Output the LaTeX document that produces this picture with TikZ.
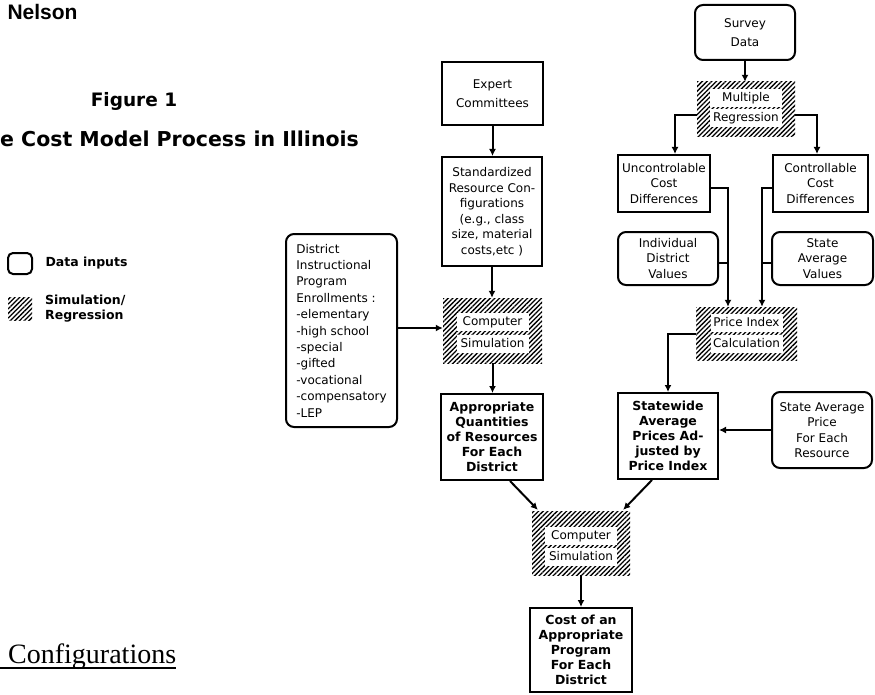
\documentclass[tikz,border=0pt]{standalone}
\usepackage{fontspec}
\setmainfont{DejaVu Sans}
\newfontfamily\headfont{Liberation Sans}
\newfontfamily\pagefont{Liberation Serif}
\usetikzlibrary{arrows.meta, positioning, calc, patterns.meta}

\begin{document}
\begin{tikzpicture}[
    x=1pt, y=-1pt,
    font=\fontsize{12}{15.5}\selectfont,
    >={Latex[length=7pt,width=7pt]},
    % Box styles for inputs, results and computations
    data_box/.style={draw, line width=2pt, rounded corners=8pt, align=center, inner sep=1pt},
    result_box/.style={draw, line width=2pt, align=center, inner sep=1pt},
    bold_box/.style={result_box, font=\fontsize{12.5}{15}\selectfont\bfseries},
    hatch_box/.style={pattern={Lines[angle=45,distance=3.3pt,line width=1.3pt]}, inner sep=0pt},
    hatch_text/.style={fill=white, inner xsep=2pt, inner ysep=3pt, text height=9pt, text depth=2.5pt, minimum width=72pt},
    flow/.style={->, line width=2pt},
    joint/.style={line width=2pt}
]
\useasboundingbox (0,0) rectangle (875,695);

% --- 1. Page headings ---
\node[anchor=west, font=\headfont\fontsize{21}{24}\selectfont\bfseries] (author) at (4,12) {Nelson};
\node[font=\fontsize{18.5}{22}\selectfont\bfseries] (figno) at (134,101) {Figure 1};
\node[anchor=west, inner sep=0pt, font=\fontsize{20.5}{24}\selectfont\bfseries] (title) at (0,139) {e Cost Model Process in Illinois};

% --- 2. Legend ---
\node[data_box, minimum width=24pt, minimum height=21pt, rounded corners=5pt] (leg_data) at (20,263.5) {};
\node[right=9pt of leg_data, font=\fontsize{12.5}{14}\selectfont\bfseries] (leg_data_txt) {Data inputs};
\node[hatch_box, minimum width=24pt, minimum height=23pt] (leg_hatch) at (20,308.5) {};
\node[right=9pt of leg_hatch, align=left, font=\fontsize{12.5}{15}\selectfont\bfseries] (leg_hatch_txt) {Simulation/\\Regression};

% --- 3. Resource quantities (left column) ---
\node[result_box, minimum width=101pt, minimum height=63pt] (expert) at (492.5,93.5) {Expert\\[4pt]Committees};
\node[result_box, minimum width=100pt, minimum height=109pt] (stdres) at (492,211.5)
    {Standardized\\Resource Con-\\figurations\\(e.g., class\\size, material\\costs,etc )};
\node[data_box, minimum width=111pt, minimum height=193pt, align=left, font=\fontsize{12}{16.4}\selectfont] (district) at (341.5,330.5)
    {District\\Instructional\\Program\\Enrollments :\\-elementary\\-high school\\-special\\-gifted\\-vocational\\-compensatory\\-LEP};

\node[hatch_box, minimum width=99pt, minimum height=65pt] (csim_a) at (492.5,330.5) {};
\node[hatch_text] (csim_a1) at (492.5,322) {Computer};
\node[hatch_text] (csim_a2) at (492.5,344) {Simulation};

\node[bold_box, minimum width=102pt, minimum height=86pt] (appq) at (492,437)
    {Appropriate\\Quantities\\of Resources\\For Each\\District};

% --- 4. Price index (right column) ---
\node[data_box, minimum width=100pt, minimum height=55pt] (survey) at (745,32.5) {Survey\\[3pt]Data};

\node[hatch_box, minimum width=98pt, minimum height=55pt] (mreg) at (746,109.5) {};
\node[hatch_text] (mreg_1) at (746,98) {Multiple};
\node[hatch_text] (mreg_2) at (746,118) {Regression};

\node[result_box, minimum width=92pt, minimum height=57pt] (uncon) at (664,183.5) {Uncontrolable\\Cost\\Differences};
\node[result_box, minimum width=95pt, minimum height=57pt] (contr) at (820.5,183.5) {Controllable\\Cost\\Differences};

\node[data_box, minimum width=100pt, minimum height=53pt] (indiv) at (668,258.5) {Individual\\District\\Values};
\node[data_box, minimum width=101pt, minimum height=53pt] (stavg) at (822.5,258.5) {State\\Average\\Values};

\node[hatch_box, minimum width=101pt, minimum height=53pt] (pidx) at (746.5,333.5) {};
\node[hatch_text] (pidx_1) at (746.5,323) {Price Index};
\node[hatch_text] (pidx_2) at (746.5,344) {Calculation};

\node[bold_box, minimum width=100pt, minimum height=86pt] (statew) at (668,436)
    {Statewide\\Average\\Prices Ad-\\justed by\\Price Index};
\node[data_box, minimum width=100pt, minimum height=76pt] (sprice) at (822,430)
    {State Average\\Price\\For Each\\Resource};

% --- 5. Final cost ---
\node[hatch_box, minimum width=98pt, minimum height=64pt] (csim_b) at (581,543) {};
\node[hatch_text] (csim_b1) at (581,536) {Computer};
\node[hatch_text] (csim_b2) at (581,557) {Simulation};

\node[bold_box, minimum width=102pt, minimum height=84pt] (cost) at (581,650)
    {Cost of an\\Appropriate\\Program\\For Each\\District};

% --- 6. Connectors ---
\draw[flow] (expert.south) -- (expert.south |- stdres.north);
\draw[flow] (stdres.south) -- (stdres.south |- csim_a.north);
\draw[flow] ([yshift=2.5pt]district.east) -- ([yshift=2.5pt]district.east -| csim_a.west);
\draw[flow] (csim_a.south) -- (csim_a.south |- appq.north);

\draw[flow] (survey.south) -- (survey.south |- mreg.north);
\draw[flow] ([yshift=-5.5pt]mreg.west) -| ([xshift=11pt]uncon.north);
\draw[flow] ([yshift=-5.5pt]mreg.east) -| ([xshift=-3.5pt]contr.north);

\coordinate (uline) at ([xshift=-18.5pt]pidx.north);
\coordinate (cline) at ([xshift=15.5pt]pidx.north);
\draw[flow] ([yshift=-4.5pt]uncon.east) -| (uline);
\draw[flow] ([yshift=-4.5pt]contr.west) -| (cline);
\draw[joint] ([yshift=-4.5pt]indiv.east) -- ([yshift=-4.5pt]indiv.east -| uline);
\draw[joint] ([yshift=-4.5pt]stavg.west) -- ([yshift=-4.5pt]stavg.west -| cline);

\draw[flow] (pidx.west) -| (statew.north);
\draw[flow] (sprice.west) -- (sprice.west -| statew.east);

\draw[flow] ([xshift=18pt]appq.south) -- ([xshift=6pt,yshift=1pt]csim_b.north west);
\draw[flow] ([xshift=-16pt]statew.south) -- ([xshift=-7pt,yshift=1pt]csim_b.north east);
\draw[flow] (csim_b.south) -- (csim_b.south |- cost.north);

% --- 7. Running text below the figure ---
\node[anchor=base west, inner sep=0pt, font=\pagefont\fontsize{28}{32}\selectfont] (cfg) at (8,663) {Configurations};
\coordinate (cfg_ul) at (0,668);
\draw[line width=1.3pt] (cfg_ul) -- (cfg_ul -| cfg.east);

\end{tikzpicture}
\end{document}
